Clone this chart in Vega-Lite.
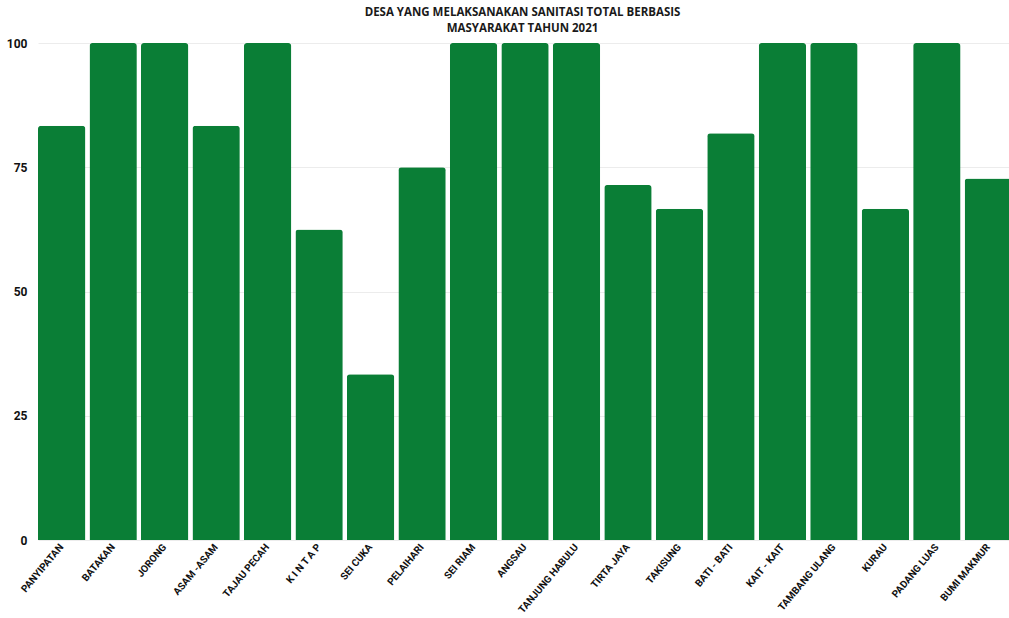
{
  "$schema": "https://vega.github.io/schema/vega-lite/v6.json",
  "autosize": {"type": "none"},
  "width": 973,
  "height": 497,
  "padding": {"left": 36, "top": 43, "right": 0, "bottom": 78},
  "background": "white",
  "title": {
    "text": ["DESA YANG MELAKSANAKAN SANITASI TOTAL BERBASIS", "MASYARAKAT TAHUN 2021"],
    "font": "Open Sans",
    "fontSize": 11.5,
    "fontWeight": "bold",
    "color": "#1a1a1a",
    "anchor": "middle",
    "offset": 3,
    "lineHeight": 16
  },
  "data": {
    "values": [
      {"desa": "PANYIPATAN", "persen": 83.33},
      {"desa": "BATAKAN", "persen": 100},
      {"desa": "JORONG", "persen": 100},
      {"desa": "ASAM -ASAM", "persen": 83.33},
      {"desa": "TAJAU PECAH", "persen": 100},
      {"desa": "K I N T A P", "persen": 62.5},
      {"desa": "SEI CUKA", "persen": 33.33},
      {"desa": "PELAIHARI", "persen": 75},
      {"desa": "SEI RIAM", "persen": 100},
      {"desa": "ANGSAU", "persen": 100},
      {"desa": "TANJUNG HABULU", "persen": 100},
      {"desa": "TIRTA JAYA", "persen": 71.43},
      {"desa": "TAKISUNG", "persen": 66.67},
      {"desa": "BATI - BATI", "persen": 81.82},
      {"desa": "KAIT - KAIT", "persen": 100},
      {"desa": "TAMBANG ULANG", "persen": 100},
      {"desa": "KURAU", "persen": 66.67},
      {"desa": "PADANG LUAS", "persen": 100},
      {"desa": "BUMI MAKMUR", "persen": 72.73}
    ]
  },
  "mark": {"type": "bar", "color": "#0a7e36", "cornerRadiusTopLeft": 3, "cornerRadiusTopRight": 3},
  "encoding": {
    "x": {
      "field": "desa",
      "type": "nominal",
      "sort": null,
      "scale": {"range": [2, 976], "paddingInner": 0.08, "paddingOuter": 0},
      "axis": {
        "title": null,
        "domain": false,
        "ticks": false,
        "labelAngle": -50,
        "labelFont": "Roboto",
        "labelFontSize": 10,
        "labelFontWeight": "bold",
        "labelColor": "#111111",
        "labelPadding": 5,
        "labelLimit": 0,
        "labelOverlap": false
      }
    },
    "y": {
      "field": "persen",
      "type": "quantitative",
      "scale": {"domain": [0, 100], "nice": false},
      "axis": {
        "title": null,
        "domain": false,
        "ticks": false,
        "values": [0, 25, 50, 75, 100],
        "labelFont": "Roboto",
        "labelFontSize": 12,
        "labelFontWeight": "bold",
        "labelColor": "#111111",
        "labelPadding": 9,
        "gridColor": "#ececec",
        "gridWidth": 1
      }
    }
  },
  "config": {"view": {"stroke": null}}
}
